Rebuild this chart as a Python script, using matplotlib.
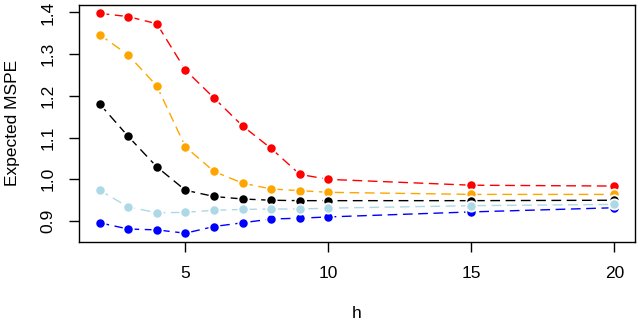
import numpy as np
import matplotlib
matplotlib.use("Agg")
import matplotlib.pyplot as plt

plt.rcParams['font.family'] = ['Liberation Sans', 'DejaVu Sans']

h = [2, 3, 4, 5, 6, 7, 8, 9, 10, 15, 20]
red = [1.398, 1.390, 1.373, 1.262, 1.195, 1.128, 1.074, 1.012, 1.000, 0.986, 0.984]
orange = [1.347, 1.298, 1.224, 1.078, 1.019, 0.991, 0.977, 0.973, 0.969, 0.964, 0.964]
black = [1.181, 1.103, 1.030, 0.974, 0.959, 0.953, 0.950, 0.949, 0.949, 0.949, 0.950]
lightblue = [0.974, 0.934, 0.920, 0.921, 0.926, 0.928, 0.929, 0.929, 0.931, 0.937, 0.940]
blue = [0.896, 0.881, 0.879, 0.871, 0.887, 0.896, 0.905, 0.907, 0.910, 0.922, 0.932]

series = [(red, "red"), (orange, "orange"), (black, "black"),
          (blue, "blue"), (lightblue, "lightblue")]

fig = plt.figure(figsize=(6.4, 3.2), dpi=100)
ax = fig.add_axes([79/640, 1 - 242/320, (635 - 79)/640, (242 - 4.5)/320])

for vals, col in series:
    ax.plot(h, vals, color=col, linestyle=(0, (7, 4)), linewidth=1.0,
            marker="o", markersize=7.4, markeredgecolor="white", markeredgewidth=1.3)

# R-style 4% axis padding
ymin = min(min(v) for v, _ in series)
ymax = max(max(v) for v, _ in series)
yr = ymax - ymin
ax.set_xlim(2 - 0.04 * 18, 20 + 0.04 * 18)
ax.set_ylim(ymin - 0.04 * yr, ymax + 0.04 * yr)

ax.set_xticks([5, 10, 15, 20])
ax.set_yticks([0.9, 1.0, 1.1, 1.2, 1.3, 1.4])
ax.set_yticklabels(["0.9", "1.0", "1.1", "1.2", "1.3", "1.4"], rotation=90, va="center")
ax.tick_params(labelsize=12.5, length=7.5, width=1, pad=9.5)
for s in ax.spines.values():
    s.set_linewidth(1)

ax.set_xlabel("h", fontsize=12.5, labelpad=18)
ax.set_ylabel("Expected MSPE", fontsize=12.5, labelpad=15)

fig.savefig("out.png", dpi=100)
